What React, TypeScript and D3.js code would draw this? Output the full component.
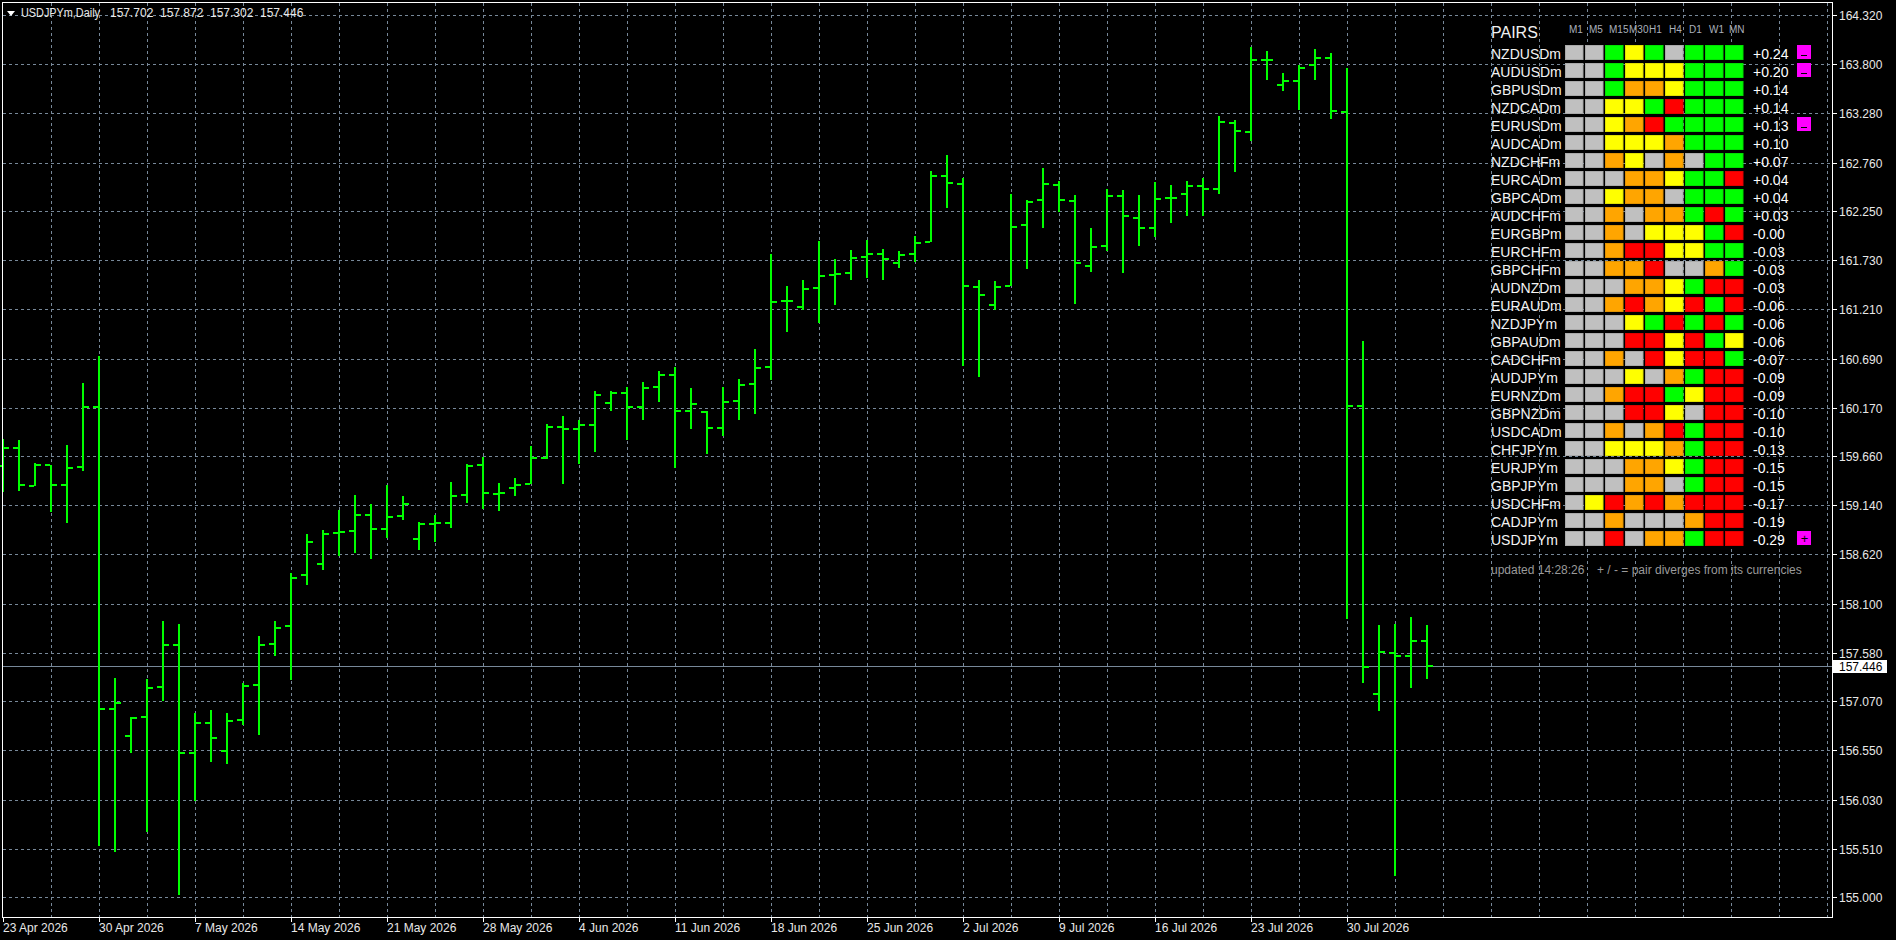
import * as React from 'react'
import * as d3 from 'd3'

// daily bars, USDJPYm (index 0 = 23 Apr 2026, 6 bars a week incl. sunday)
const opens = [
    159.55, 159.741, 159.347, 159.569, 159.358, 159.546, 160.182, 156.984, 156.699, 156.898,
    157.215, 157.66, 156.519, 156.836, 156.543, 156.867, 157.238, 157.672, 157.859, 158.4,
    158.52, 158.848, 158.869, 159.038, 158.89, 159.028, 158.785, 158.943, 158.95, 159.25,
    159.566, 159.26, 159.323, 159.362, 159.64, 159.968, 159.946, 159.985, 160.221, 160.326,
    160.178, 160.39, 160.517, 160.136, 160.126, 159.956, 160.242, 160.418, 160.601, 161.298,
    161.239, 161.436, 161.573, 161.594, 161.763, 161.795, 161.7, 161.795, 161.918, 162.619,
    162.535, 161.446, 161.256, 161.457, 162.101, 162.366, 162.524, 162.355, 161.668, 161.879,
    162.408, 162.175, 162.072, 162.384, 162.432, 162.51, 162.486, 163.176, 163.086, 163.848,
    163.584, 163.62, 163.788, 163.866, 163.296, 160.188, 157.146, 157.578, 157.548, 157.702,
]
const highs = [
    159.843, 159.831, 159.589, 159.569, 159.776, 160.432, 160.713, 157.316, 156.906, 157.3,
    157.921, 157.89, 156.941, 156.98, 156.941, 157.265, 157.762, 157.921, 158.425, 158.834,
    158.876, 159.087, 159.246, 159.158, 159.352, 159.235, 158.961, 159.035, 159.383, 159.574,
    159.648, 159.373, 159.426, 159.764, 159.996, 160.081, 160.038, 160.344, 160.344, 160.386,
    160.439, 160.555, 160.597, 160.376, 160.14, 160.386, 160.471, 160.788, 161.798, 161.453,
    161.517, 161.929, 161.739, 161.834, 161.939, 161.844, 161.823, 161.982, 162.668, 162.837,
    162.594, 161.517, 161.506, 162.425, 162.362, 162.7, 162.563, 162.415, 162.066, 162.478,
    162.468, 162.415, 162.552, 162.528, 162.57, 162.594, 163.248, 163.206, 163.986, 163.944,
    163.71, 163.794, 163.956, 163.914, 163.758, 160.878, 157.878, 157.884, 157.962, 157.872,
]
const lows = [
    159.276, 159.288, 159.347, 159.073, 158.948, 159.499, 155.539, 155.477, 156.519, 155.684,
    157.07, 155.02, 156.016, 156.426, 156.406, 156.816, 156.711, 157.547, 157.293, 158.3,
    158.46, 158.601, 158.637, 158.573, 158.795, 158.985, 158.665, 158.753, 158.901, 159.165,
    159.102, 159.081, 159.239, 159.362, 159.633, 159.366, 159.573, 159.703, 160.136, 159.826,
    160.045, 160.231, 159.534, 159.946, 159.682, 159.872, 160.045, 160.104, 160.464, 160.971,
    161.207, 161.066, 161.256, 161.52, 161.541, 161.52, 161.647, 161.707, 161.918, 162.281,
    160.61, 160.495, 161.207, 161.457, 161.636, 162.07, 162.239, 161.267, 161.605, 161.827,
    161.594, 161.879, 161.97, 162.12, 162.198, 162.198, 162.426, 162.66, 162.99, 163.638,
    163.518, 163.314, 163.638, 163.224, 157.938, 157.266, 156.966, 155.226, 157.212, 157.302,
]
const closes = [
    159.741, 159.358, 159.569, 159.358, 159.538, 160.182, 156.984, 157.051, 156.887, 157.207,
    157.66, 156.519, 156.836, 156.676, 156.855, 157.226, 157.66, 157.843, 158.367, 158.753,
    158.837, 158.859, 159.038, 158.89, 159.017, 159.155, 158.943, 158.95, 159.239, 159.556,
    159.271, 159.271, 159.355, 159.64, 159.968, 159.943, 159.985, 160.302, 160.326, 160.178,
    160.379, 160.517, 160.133, 160.21, 159.956, 160.231, 160.407, 160.587, 161.284, 161.298,
    161.422, 161.563, 161.584, 161.753, 161.795, 161.742, 161.784, 161.911, 162.619, 162.545,
    161.457, 161.362, 161.446, 162.08, 162.344, 162.535, 162.366, 161.7, 161.869, 162.408,
    162.196, 162.07, 162.372, 162.39, 162.51, 162.486, 163.188, 163.092, 163.842, 163.848,
    163.62, 163.764, 163.866, 163.308, 160.188, 157.428, 157.584, 157.548, 157.704, 157.446,
]

const priceTicks = [
    164.32, 163.8, 163.28, 162.76, 162.25, 161.73, 161.21, 160.69, 160.17, 159.66,
    159.14, 158.62, 158.1, 157.58, 157.07, 156.55, 156.03, 155.51, 155.0,
]
const dateLabels = [
    '23 Apr 2026', '30 Apr 2026', '7 May 2026', '14 May 2026', '21 May 2026',
    '28 May 2026', '4 Jun 2026', '11 Jun 2026', '18 Jun 2026', '25 Jun 2026',
    '2 Jul 2026', '9 Jul 2026', '16 Jul 2026', '23 Jul 2026', '30 Jul 2026',
]
const lastPrice = 157.446

// strength table
const timeframes = ['M1', 'M5', 'M15', 'M30', 'H1', 'H4', 'D1', 'W1', 'MN']
const pairs = [
    'NZDUSDm', 'AUDUSDm', 'GBPUSDm', 'NZDCADm', 'EURUSDm', 'AUDCADm', 'NZDCHFm',
    'EURCADm', 'GBPCADm', 'AUDCHFm', 'EURGBPm', 'EURCHFm', 'GBPCHFm', 'AUDNZDm',
    'EURAUDm', 'NZDJPYm', 'GBPAUDm', 'CADCHFm', 'AUDJPYm', 'EURNZDm', 'GBPNZDm',
    'USDCADm', 'CHFJPYm', 'EURJPYm', 'GBPJPYm', 'USDCHFm', 'CADJPYm', 'USDJPYm',
]
// S silver, G green, Y yellow, O orange, R red
const pairStates = [
    'SSGYGSGGG', 'SSGYYYGGG', 'SSGOOYGGG', 'SSYYGRGGG', 'SSYORGGGG', 'SSYYYOGGG', 'SSOYSOSGG',
    'SSSOOYGGR', 'SSYOOSGGG', 'SSOSOOGRG', 'SSOSYYYGR', 'SSORRYYGG', 'SSOORSSOG', 'SSSOOYGRR',
    'SSOROYRGR', 'SSSYGRGRG', 'SSSRRYRGY', 'SSOSRYRRG', 'SSSYSOGRR', 'SSORRGYRR', 'SSSRRYSRR',
    'SSOSORGRR', 'SSYYYOGRR', 'SSSOOYGRR', 'SSSOOSGRR', 'SYRORORRR', 'SSOSSSORR', 'SSRSOOGRR',
]
const pairScores = [
    '+0.24', '+0.20', '+0.14', '+0.14', '+0.13', '+0.10', '+0.07', '+0.04', '+0.04', '+0.03',
    '-0.00', '-0.03', '-0.03', '-0.03', '-0.06', '-0.06', '-0.06', '-0.07', '-0.09', '-0.09',
    '-0.10', '-0.10', '-0.13', '-0.15', '-0.15', '-0.17', '-0.19', '-0.29',
]
const divergence: {[pair: string]: string} = {NZDUSDm: '-', AUDUSDm: '-', EURUSDm: '-', USDJPYm: '+'}

const stateColor: {[k: string]: string} = {
    S: '#c0c0c0', G: '#00ff00', Y: '#ffff00', O: '#ffa500', R: '#ff0000',
}

const W = 1896
const H = 940
const frame = {left: 2.5, top: 2.5, right: 1832.5, bottom: 917.5}
const font = '"Liberation Sans", Arial, sans-serif'
const gridColor = '#778899'
const barColor = '#00ff00'

export default function App() {
    const y = d3.scaleLinear().domain([155.0, 164.32]).range([897, 15])
    const x = d3.scaleLinear().domain([0, 114]).range([3.3, 1827.3])
    const px = (i: number) => Math.round(x(i))
    const py = (p: number) => Math.round(y(p))

    const vGrid = d3.range(3, 115, 3)
    const tableX = 1491
    const cellX = (j: number) => 1565 + j * 20
    const rowTop = (r: number) => 45 + r * 18

    return <div style={{position: 'fixed', left: 0, top: 0, width: W, height: H, background: '#000'}}>
        <svg width={W} height={H} style={{display: 'block'}} fontFamily={font}>
            <rect width={W} height={H} fill='#000' />

            {/* grid */}
            <g stroke={gridColor} strokeWidth={1} strokeDasharray='3,3' shapeRendering='crispEdges'>
                {priceTicks.map(p => (
                    <line key={'h' + p} x1={frame.left} x2={frame.right} y1={py(p) + 0.5} y2={py(p) + 0.5} />
                ))}
                {vGrid.map(i => (
                    <line key={'v' + i} x1={px(i) + 0.5} x2={px(i) + 0.5} y1={frame.top} y2={frame.bottom} />
                ))}
            </g>

            {/* last price line */}
            <line x1={frame.left} x2={frame.right} y1={py(lastPrice) + 0.5} y2={py(lastPrice) + 0.5}
                stroke={gridColor} strokeWidth={1} shapeRendering='crispEdges' />

            {/* OHLC bars */}
            <g fill={barColor} shapeRendering='crispEdges'>
                {opens.map((o, i) => {
                    const cx = px(i)
                    const top = py(highs[i])
                    const bot = py(lows[i])
                    return <g key={i}>
                        <rect x={cx - 1} y={top} width={2} height={Math.max(2, bot - top)} />
                        <rect x={cx - 6} y={py(o) - 1} width={5} height={2} />
                        <rect x={cx + 1} y={py(closes[i]) - 1} width={5} height={2} />
                    </g>
                })}
            </g>

            {/* frame + axes */}
            <rect x={frame.left} y={frame.top} width={frame.right - frame.left} height={frame.bottom - frame.top}
                fill='none' stroke='#ffffff' strokeWidth={1} shapeRendering='crispEdges' />
            <g fill='#e8e8e8' fontSize={12}>
                {priceTicks.map(p => (
                    <g key={'pt' + p}>
                        <line x1={frame.right} x2={frame.right + 4} y1={py(p) + 0.5} y2={py(p) + 0.5}
                            stroke='#ffffff' shapeRendering='crispEdges' />
                        <text x={1839} y={py(p) + 4.5}>{p.toFixed(3)}</text>
                    </g>
                ))}
                {dateLabels.map((d, k) => (
                    <g key={d}>
                        <line x1={px(k * 6) + 0.5} x2={px(k * 6) + 0.5} y1={frame.bottom} y2={frame.bottom + 4}
                            stroke='#ffffff' shapeRendering='crispEdges' />
                        <text x={px(k * 6)} y={932}>{d}</text>
                    </g>
                ))}
            </g>
            <rect x={1833} y={py(lastPrice) - 6} width={54} height={13} fill='#ffffff' />
            <text x={1839} y={py(lastPrice) + 4.5} fontSize={12} fill='#000000'>{lastPrice.toFixed(3)}</text>

            {/* header */}
            <polygon points='7,11 15,11 11,16' fill='#ffffff' />
            <text x={21} y={17} fontSize={12} fill='#e8e8e8' textLength={79} lengthAdjust='spacingAndGlyphs'>USDJPYm,Daily</text>
            {[opens[89], highs[89], lows[89], closes[89]].map((v, k) => (
                <text key={'hd' + k} x={110 + k * 50} y={17} fontSize={12} fill='#e8e8e8'>{v.toFixed(3)}</text>
            ))}

            {/* pairs table */}
            <text x={tableX} y={38} fontSize={16} fill='#f0f0f0'>PAIRS</text>
            {timeframes.map((tf, j) => (
                <text key={tf} x={cellX(j) + 4} y={33} fontSize={10} fill='#aab0bb'>{tf}</text>
            ))}
            {pairs.map((pair, r) => {
                const top = rowTop(r)
                const mark = divergence[pair]
                return <g key={pair}>
                    <text x={tableX} y={top + 13.5} fontSize={14} fill='#f4f4f4'>{pair}</text>
                    {pairStates[r].split('').map((s, j) => {
                        const c = stateColor[s]
                        return <rect key={j} x={cellX(j) + 0.5} y={top + 0.5} width={17.5} height={14}
                            fill={c} stroke={d3.color(c)!.darker(0.35).toString()} strokeWidth={1} />
                    })}
                    <text x={1753} y={top + 13.5} fontSize={14} fill='#ffffff'>{pairScores[r]}</text>
                    {mark && <g>
                        <rect x={1797} y={top} width={14} height={14} fill='#ff00ff' />
                        {mark === '+'
                            ? <text x={1804.5} y={top + 12} fontSize={13} textAnchor='middle' fill='#000'>+</text>
                            : <rect x={1801} y={top + 10} width={6} height={1} fill='#000' />}
                    </g>}
                </g>
            })}
            <text x={tableX} y={574} fontSize={12} fill='#9a9a9a'>updated 14:28:26</text>
            <text x={1597} y={574} fontSize={12} fill='#9a9a9a'>+ / - = pair diverges from its currencies</text>
        </svg>
    </div>
}
